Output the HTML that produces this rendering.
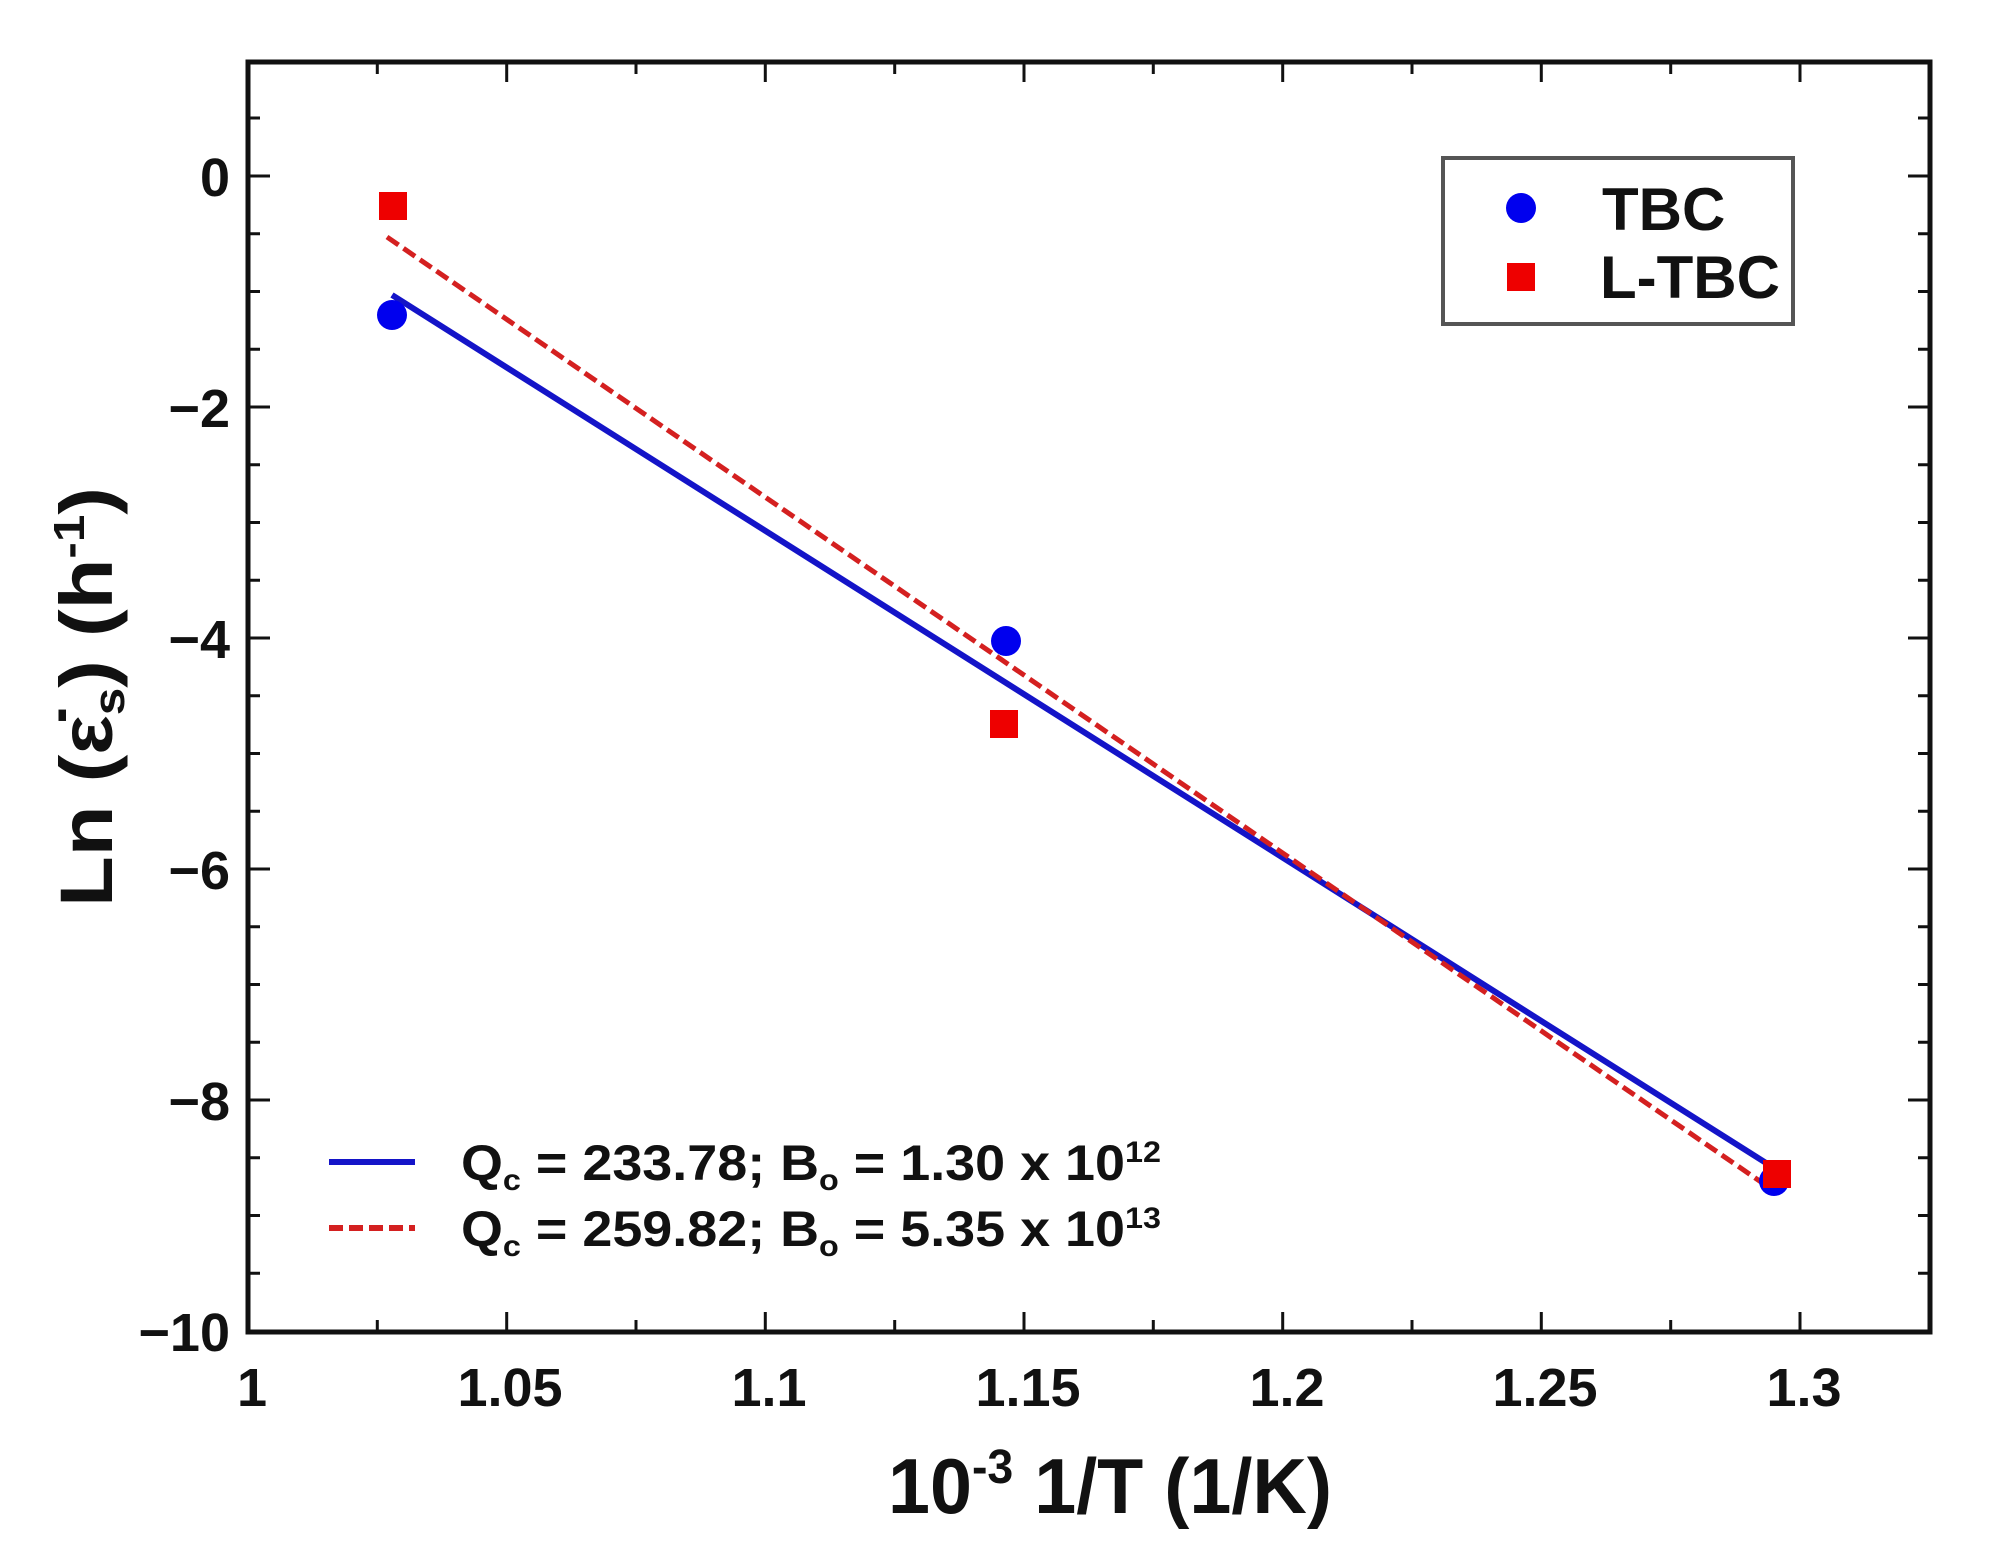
<!DOCTYPE html>
<html><head><meta charset="utf-8"><style>html,body{margin:0;padding:0;background:#fff}</style></head>
<body>
<svg width="1991" height="1563" viewBox="0 0 1991 1563" xmlns="http://www.w3.org/2000/svg" font-family="Liberation Sans, sans-serif">
<rect width="1991" height="1563" fill="#fff"/>
<g stroke="#111" stroke-width="3">
<path d="M248,1332v-20M506.7,1332v-20M765.3,1332v-20M1024,1332v-20M1282.7,1332v-20M1541.3,1332v-20M1800,1332v-20
M377.3,1332v-12M636,1332v-12M894.7,1332v-12M1153.3,1332v-12M1412,1332v-12M1670.7,1332v-12
M506.7,62v20M765.3,62v20M1024,62v20M1282.7,62v20M1541.3,62v20M1800,62v20
M377.3,62v12M636,62v12M894.7,62v12M1153.3,62v12M1412,62v12M1670.7,62v12"/>
<path d="M248,176h22M248,407h22M248,638h22M248,869h22M248,1100h22
M1930,176h-22M1930,407h-22M1930,638h-22M1930,869h-22M1930,1100h-22
M248,118h12M248,233.75h12M248,291.5h12M248,349.25h12M248,464.75h12M248,522.5h12M248,580.25h12M248,695.75h12M248,753.5h12M248,811.25h12M248,926.75h12M248,984.5h12M248,1042.25h12M248,1157.75h12M248,1215.5h12M248,1273.25h12
M1930,118h-12M1930,233.75h-12M1930,291.5h-12M1930,349.25h-12M1930,464.75h-12M1930,522.5h-12M1930,580.25h-12M1930,695.75h-12M1930,753.5h-12M1930,811.25h-12M1930,926.75h-12M1930,984.5h-12M1930,1042.25h-12M1930,1157.75h-12M1930,1215.5h-12M1930,1273.25h-12"/>
</g>
<rect x="248" y="62" width="1682" height="1270" fill="none" stroke="#111" stroke-width="5"/>
<g font-size="54" fill="#111" text-anchor="end" font-weight="bold">
<text x="230" y="196">0</text>
<text x="230" y="427">−2</text>
<text x="230" y="658">−4</text>
<text x="230" y="889">−6</text>
<text x="230" y="1120">−8</text>
<text x="230" y="1351">−10</text>
</g>
<g font-size="54" fill="#111" text-anchor="middle" font-weight="bold">
<text x="252" y="1406">1</text>
<text x="510" y="1406">1.05</text>
<text x="769" y="1406">1.1</text>
<text x="1028" y="1406">1.15</text>
<text x="1287" y="1406">1.2</text>
<text x="1545" y="1406">1.25</text>
<text x="1804" y="1406">1.3</text>
</g>
<text x="888" y="1513" font-size="78" font-weight="bold" fill="#111" textLength="444" lengthAdjust="spacingAndGlyphs">10<tspan dy="-30" font-size="48">-3</tspan><tspan dy="30"> 1/T (1/K)</tspan></text>
<text transform="translate(112,907) rotate(-90)" font-size="74" font-weight="bold" fill="#111" textLength="420" lengthAdjust="spacingAndGlyphs">Ln (ε̇<tspan dy="12" font-size="44">s</tspan><tspan dy="-12">) (h</tspan><tspan dy="-28" font-size="44">-1</tspan><tspan dy="28">)</tspan></text>
<line x1="392" y1="295" x2="1774" y2="1168" stroke="#1414c8" stroke-width="6"/>
<line x1="387" y1="237" x2="1777" y2="1193" stroke="#d42020" stroke-width="5" stroke-dasharray="14,6"/>
<g fill="#0000ee">
<circle cx="392" cy="315" r="15"/>
<circle cx="1006" cy="641" r="15"/>
<circle cx="1774" cy="1181" r="15"/>
</g>
<g fill="#ee0000">
<rect x="379" y="192" width="28" height="28"/>
<rect x="990" y="710" width="28" height="28"/>
<rect x="1763" y="1160" width="28" height="28"/>
</g>
<rect x="1443" y="158" width="350" height="166" fill="#fff" stroke="#555" stroke-width="4"/>
<circle cx="1521" cy="208" r="15" fill="#0000ee"/>
<rect x="1507" y="263" width="28" height="28" fill="#ee0000"/>
<g font-size="60" font-weight="bold" fill="#111">
<text x="1602" y="230">TBC</text>
<text x="1600" y="298">L-TBC</text>
</g>
<line x1="329" y1="1162" x2="415" y2="1162" stroke="#1414c8" stroke-width="6"/>
<line x1="329" y1="1228" x2="415" y2="1228" stroke="#d42020" stroke-width="6" stroke-dasharray="14,6"/>
<g font-size="50" fill="#111" font-weight="bold">
<text x="461" y="1180" textLength="700" lengthAdjust="spacingAndGlyphs">Q<tspan dy="10" font-size="30">c</tspan><tspan dy="-10"> = 233.78; B</tspan><tspan dy="10" font-size="30">o</tspan><tspan dy="-10"> = 1.30 x 10</tspan><tspan dy="-18" font-size="30">12</tspan></text>
<text x="461" y="1246" textLength="700" lengthAdjust="spacingAndGlyphs">Q<tspan dy="10" font-size="30">c</tspan><tspan dy="-10"> = 259.82; B</tspan><tspan dy="10" font-size="30">o</tspan><tspan dy="-10"> = 5.35 x 10</tspan><tspan dy="-18" font-size="30">13</tspan></text>
</g>
</svg>
</body></html>
